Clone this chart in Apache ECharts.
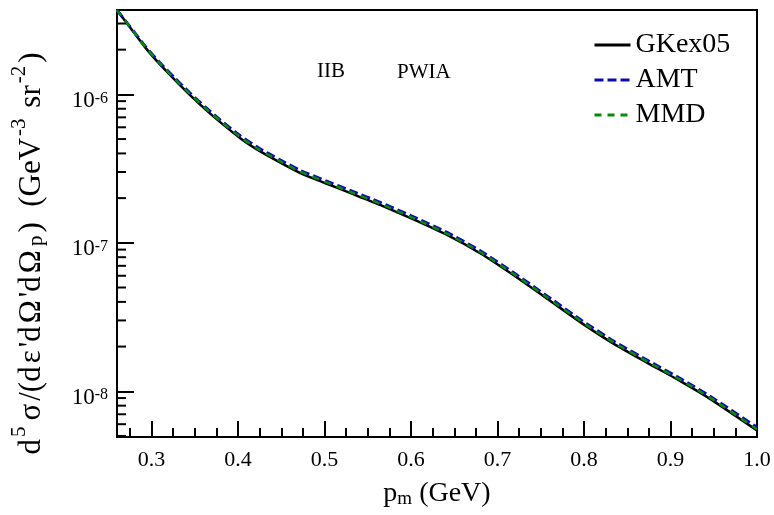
<!DOCTYPE html>
<html>
<head>
<meta charset="utf-8">
<script src="https://cdn.jsdelivr.net/npm/echarts@6/dist/echarts.min.js"></script>
<style>
html,body{margin:0;padding:0;background:#fff;}
#c{width:774px;height:515px;}
</style>
</head>
<body>
<div id="c"></div>
<script>
// ---- data ----
const pm = [0.26, 0.2748, 0.2923, 0.3097, 0.3271, 0.3445, 0.3619, 0.3793, 0.4025, 0.4222, 0.4489, 0.4721, 0.5011, 0.5301, 0.5649, 0.6035, 0.6422, 0.6809, 0.7195, 0.7583, 0.7969, 0.8355, 0.8743, 0.9129, 0.9457, 1.0];
const gkex05 = [3.68e-6, 2.84e-6, 2.08e-6, 1.59e-6, 1.248e-6, 9.89e-7, 7.96e-7, 6.50e-7, 5.07e-7, 4.24e-7, 3.47e-7, 2.95e-7, 2.52e-7, 2.16e-7, 1.792e-7, 1.431e-7, 1.125e-7, 8.44e-8, 6.0e-8, 4.17e-8, 2.89e-8, 2.07e-8, 1.542e-8, 1.157e-8, 8.89e-9, 5.45e-9];
const amt = [3.70e-6, 2.87e-6, 2.12e-6, 1.63e-6, 1.285e-6, 1.02e-6, 8.22e-7, 6.73e-7, 5.26e-7, 4.41e-7, 3.61e-7, 3.07e-7, 2.62e-7, 2.25e-7, 1.865e-7, 1.49e-7, 1.17e-7, 8.78e-8, 6.24e-8, 4.34e-8, 3.01e-8, 2.155e-8, 1.605e-8, 1.205e-8, 9.26e-9, 5.72e-9];
const mmd = [3.69e-6, 2.855e-6, 2.10e-6, 1.61e-6, 1.265e-6, 1.005e-6, 8.1e-7, 6.62e-7, 5.16e-7, 4.32e-7, 3.54e-7, 3.01e-7, 2.57e-7, 2.2e-7, 1.828e-7, 1.46e-7, 1.147e-7, 8.6e-8, 6.12e-8, 4.25e-8, 2.95e-8, 2.11e-8, 1.572e-8, 1.18e-8, 9.06e-9, 5.55e-9];
const seriesNames = ['GKex05', 'AMT', 'MMD'];
const yMajorExponents = [-8, -7, -6];
const yMinorTicks = [5e-9, 6e-9, 7e-9, 8e-9, 9e-9, 2e-8, 3e-8, 4e-8, 5e-8, 6e-8, 7e-8, 8e-8, 9e-8, 2e-7, 3e-7, 4e-7, 5e-7, 6e-7, 7e-7, 8e-7, 9e-7, 2e-6, 3e-6];
const xMin = 0.26, xMax = 1.0, yMin = 4.92e-9, yMax = 3.70e-6;
const annotations = ['IIB', 'PWIA'];

const FONT = 'Liberation Serif';
const pair = (xs, ys) => xs.map((x, i) => [x, ys[i]]);

const chart = echarts.init(document.getElementById('c'), null, {renderer: 'canvas'});
const option = {
  backgroundColor: '#fff',
  animation: false,
  grid: {left: 117, right: 17, top: 10, bottom: 78, show: true, borderColor: '#000', borderWidth: 2, backgroundColor: 'transparent'},
  legend: {
    data: seriesNames, orient: 'vertical', left: 588, top: 25, itemGap: 5,
    itemWidth: 36, itemHeight: 14,
    itemStyle: {opacity: 0},
    lineStyle: {width: 3},
    textStyle: {fontFamily: FONT, fontSize: 28, color: '#000', lineHeight: 30}
  },
  graphic: [
    {type: 'text', left: 317, top: 61, style: {text: annotations[0], fontFamily: FONT, fontSize: 21, fill: '#000'}},
    {type: 'text', left: 397, top: 62, style: {text: annotations[1], fontFamily: FONT, fontSize: 21, fill: '#000'}}
  ],
  xAxis: {
    type: 'value', min: xMin, max: xMax, splitNumber: 5,
    axisLine: {lineStyle: {color: '#000', width: 2}},
    axisTick: {inside: true, length: 16, lineStyle: {color: '#000', width: 2}},
    minorTick: {show: true, splitNumber: 4, length: 9, lineStyle: {color: '#000', width: 2}},
    splitLine: {show: false},
    axisLabel: {
      margin: 12, fontFamily: FONT, fontSize: 22, color: '#000',
      showMinLabel: false,
      formatter: v => Math.abs(v * 10 - Math.round(v * 10)) < 1e-6 ? v.toFixed(1) : ''
    },
    name: '{t|p}{s|m}{t| (GeV)}', nameLocation: 'middle', nameGap: 42,
    nameTextStyle: {fontFamily: FONT, color: '#000', rich: {
      t: {fontFamily: FONT, fontSize: 28, lineHeight: 30, color: '#000'},
      s: {fontFamily: FONT, fontSize: 19, lineHeight: 16, verticalAlign: 'bottom', color: '#000'}
    }}
  },
  yAxis: {
    type: 'log', logBase: 10, min: yMin, max: yMax,
    axisLine: {lineStyle: {color: '#000', width: 2}},
    axisTick: {inside: true, length: 17, lineStyle: {color: '#000', width: 2}},
    splitLine: {show: false},
    axisLabel: {
      margin: 9, padding: [14, 0, 0, 0],
      formatter: v => {
        const e = Math.log10(v);
        const r = Math.round(e);
        if (Math.abs(e - r) > 1e-6 || yMajorExponents.indexOf(r) < 0) return '';
        return '{b|10}{s|' + r + '}';
      },
      rich: {
        b: {fontFamily: FONT, fontSize: 23, lineHeight: 22, padding: [8, 0, 0, 0], verticalAlign: 'bottom', color: '#000'},
        s: {fontFamily: FONT, fontSize: 16, lineHeight: 15, verticalAlign: 'top', color: '#000'}
      }
    },
    name: '{t|d}{u|5}{g|σ}{t|/(d}{g|ε}{t|\'d}{g|Ω}{t|\'d}{g|Ω}{d|p}{t|)  (GeV}{u|-3}{t| sr}{u|-2}{t|)}',
    nameLocation: 'middle', nameRotate: 90, nameGap: 70,
    nameTextStyle: {fontFamily: FONT, color: '#000', padding: [0, 60, 0, 0], rich: {
      t: {fontFamily: FONT, fontSize: 31, lineHeight: 38, verticalAlign: 'bottom', color: '#000'},
      g: {fontFamily: FONT, fontSize: 31, lineHeight: 38, verticalAlign: 'bottom', padding: [0, 3, 0, 3], color: '#000'},
      u: {fontFamily: FONT, fontSize: 21, lineHeight: 20, verticalAlign: 'top', padding: [0, 3, 0, 2], color: '#000'},
      d: {fontFamily: FONT, fontSize: 21, lineHeight: 20, verticalAlign: 'bottom', padding: [0, 3, 0, 1], color: '#000'}
    }}
  },
  series: [
    {name: 'GKex05', type: 'line', data: pair(pm, gkex05), smooth: 0.2, showSymbol: false, symbol: 'none', z: 3,
     lineStyle: {color: '#000', width: 2.5, type: 'solid'}, itemStyle: {color: '#000'}},
    {name: 'AMT', type: 'line', data: pair(pm, amt), smooth: 0.2, showSymbol: false, symbol: 'none', z: 4,
     lineStyle: {color: '#0a0ab4', width: 3, type: [9, 4]}, itemStyle: {color: '#0a0ab4'}},
    {name: 'MMD', type: 'line', data: pair(pm, mmd), smooth: 0.2, showSymbol: false, symbol: 'none', z: 5,
     lineStyle: {color: '#078a07', width: 2.5, type: [7, 6]}, itemStyle: {color: '#078a07'}},
    {name: 'yMinor', type: 'custom', silent: true, z: 6,
     data: yMinorTicks.map(v => [xMin, v]),
     renderItem: (params, api) => {
       const p = api.coord([api.value(0), api.value(1)]);
       return {type: 'line', shape: {x1: p[0], y1: p[1], x2: p[0] + 9, y2: p[1]}, style: {stroke: '#000', lineWidth: 2}};
     }}
  ]
};
chart.setOption(option);
</script>
</body>
</html>
